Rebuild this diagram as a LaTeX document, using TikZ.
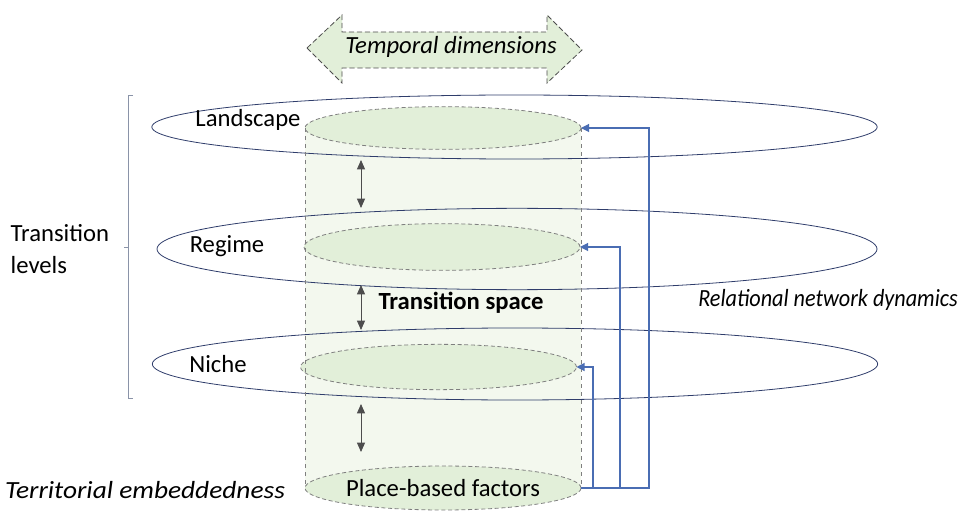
\documentclass[tikz,border=0pt]{standalone}
\usepackage{fontspec}
\setmainfont{Carlito}
\usepackage{xcolor}
\usetikzlibrary{positioning,shapes.geometric,arrows.meta}

\definecolor{leaf}{HTML}{E2EFD9}
\definecolor{paleleaf}{HTML}{F3F8EE}
\definecolor{navy}{HTML}{2F3D6B}
\definecolor{flowblue}{HTML}{4A6DB3}
\definecolor{dashgray}{HTML}{7F7F7F}
\definecolor{arrowgray}{HTML}{4D4D4D}
\definecolor{bracketgray}{HTML}{8A93A8}

\begin{document}
\begin{tikzpicture}[x=0.75pt,y=-0.75pt,
        every node/.style={font=\fontsize{18.5}{24.5}\selectfont},
        level/.style={draw=navy,semithick,ellipse,outer sep=0,inner sep=0},
        slice/.style={draw=dashgray,semithick,dash pattern=on 3pt off 2pt,fill=leaf,ellipse,outer sep=0,inner sep=0,minimum width=207pt},
        updown/.style={arrowgray,semithick,{Triangle[length=7pt,width=6pt]}-{Triangle[length=7pt,width=6pt]}},
        flow/.style={flowblue,thick,-{Triangle[length=6pt,width=6pt]}}]
    \useasboundingbox (0,0) rectangle (963,513);

    % body of the cylinder
    \fill[paleleaf] (305,128) rectangle (581,488);

    % the three transition levels
    \node[level,minimum width=544pt,minimum height=48pt] (landring) at (514.5,127) {};
    \node[level,minimum width=540pt,minimum height=61pt] (regring) at (517,249) {};
    \node[level,minimum width=544pt,minimum height=54pt] (nichering) at (515,364) {};

    \node[slice,minimum height=32pt] (land) at (443,128) {};
    \node[slice,minimum height=35pt] (reg) at (442,247) {};
    \node[slice,minimum height=34pt] (niche) at (438.5,367) {};
    \node[slice,minimum height=33pt] (place) at (443,488) {Place-based factors};

    \draw[dashgray,dashed] (land.west) -- (place.west);
    \draw[dashgray,dashed] (land.east) -- (place.east);

    \node (landlbl) at (248,120) {Landscape};
    \node (reglbl) at (227,246) {Regime};
    \node (nichelbl) at (218,364) {Niche};

    % arrows between the levels
    \foreach \n/\top/\bot in {1/160/208, 2/285/330, 3/404/452} {
        \coordinate (up\n) at (361,\top);
        \coordinate (dn\n) at (361,\bot);
        \draw[updown] (up\n) -- (dn\n);
    }

    % relational network dynamics
    \draw[flow] (place.east) -- ++(68,0) |- (land.east);
    \draw[flow] (place.east) -- ++(39,0) |- (reg.east);
    \draw[flow] (place.east) -- ++(12,0) |- (niche.east);

    % temporal dimensions
    \draw[arrowgray,semithick,dash pattern=on 4pt off 2pt,fill=leaf] (307,48) -- (342,15) -- (342,32) -- (547,32) -- (547,15)
        -- (582,50) -- (547,83) -- (547,68) -- (342,68) -- (342,83) -- cycle;
    \node (tempo) at (451,47) {\itshape Temporal dimensions};

    % bracket of the levels
    \draw[bracketgray] (133,95) -- (128,95) -- (128,398) -- (133,398);
    \draw[bracketgray] (128,247) -- (124,247);

    \node[align=left,anchor=west] (levels) at (6,249) {Transition\\levels};
    \node (space) at (461,303) {\bfseries Transition space};
    \node (network) at (828,300) {\scalebox{0.9}[1]{\itshape Relational network dynamics}};
    \node (embed) at (145,490) {\scalebox{1.11}[1]{\itshape Territorial embeddedness}};
\end{tikzpicture}
\end{document}
